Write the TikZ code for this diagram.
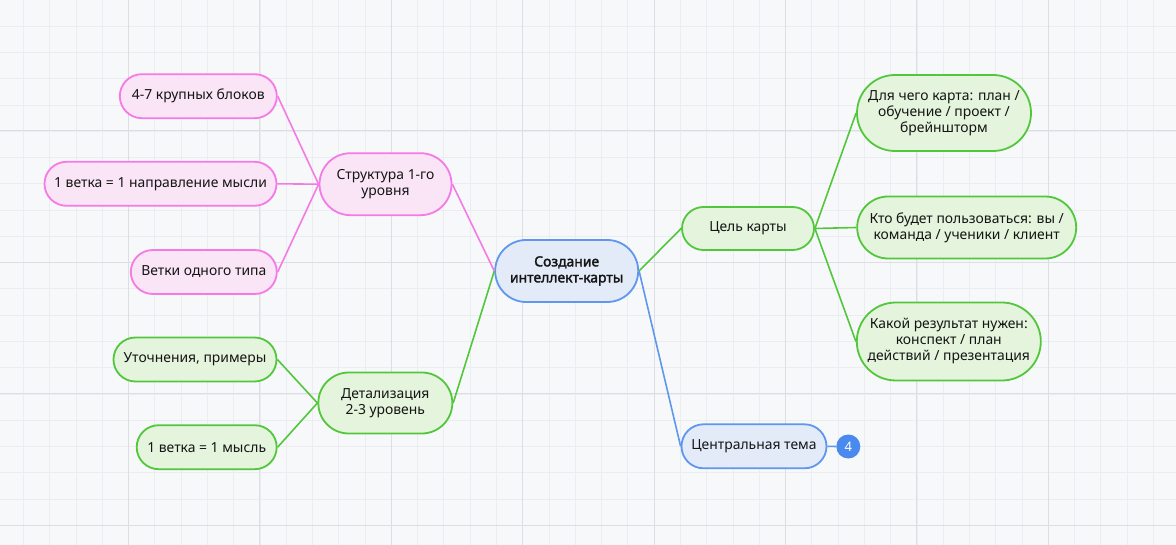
\documentclass[tikz,border=0pt]{standalone}
\usepackage{fontspec}
\setmainfont{Noto Sans}[AutoFakeBold=2.2]
\usetikzlibrary{shapes.misc}
\definecolor{pinkD}{HTML}{F57AE6}
\definecolor{pinkL}{HTML}{F9E5F6}
\definecolor{greenD}{HTML}{52C73C}
\definecolor{greenL}{HTML}{E5F4DD}
\definecolor{blueD}{HTML}{5F97EE}
\definecolor{blueL}{HTML}{E3EBF9}
\definecolor{badgeC}{HTML}{4A89EE}
\definecolor{bgC}{HTML}{F7F8FA}
\definecolor{minorC}{HTML}{ECEDF1}
\definecolor{majorC}{HTML}{DCDEE2}
\definecolor{txtC}{HTML}{151515}
\tikzset{
  topic/.style={rounded rectangle, draw, line width=1.8pt, inner sep=0pt,
    align=center, text=txtC, font=\fontsize{13.9}{16}\selectfont},
  pinkbox/.style={topic, draw=pinkD, fill=pinkL},
  greenbox/.style={topic, draw=greenD, fill=greenL},
  bluebox/.style={topic, draw=blueD, fill=blueL},
  pinkline/.style={draw=pinkD, line width=1.6pt},
  greenline/.style={draw=greenD, line width=1.6pt},
  blueline/.style={draw=blueD, line width=1.6pt},
}
\begin{document}
\begin{tikzpicture}[x=1pt,y=-1pt]
\fill[bgC] (0,0) rectangle (1176,545);
\useasboundingbox (0,0) rectangle (1176,545);
% grid
\foreach \i in {0,...,45} {
  \draw[minorC, line width=0.8pt] ({-2.9+26.28*\i},0) -- ({-2.9+26.28*\i},545);
}
\foreach \i in {0,...,21} {
  \draw[minorC, line width=0.8pt] (0,{-0.2+26.28*\i}) -- (1176,{-0.2+26.28*\i});
}
\foreach \i in {0,...,8} {
  \draw[majorC, line width=1pt] ({128.5+131.4*\i},0) -- ({128.5+131.4*\i},545);
}
\foreach \i in {0,...,3} {
  \draw[majorC, line width=1pt] (0,{131+131.4*\i}) -- (1176,{131+131.4*\i});
}
% connectors (drawn first, nodes on top)
\coordinate (rootW) at (495,271);
\coordinate (rootE) at (638.3,271);
% nodes
\node[bluebox, minimum width=143pt, minimum height=62pt, font=\fontsize{13.9}{16}\selectfont\bfseries] (root) at (566.7,271) {Создание\\интеллект-карты};

\node[pinkbox, minimum width=132pt, minimum height=62pt] (struct) at (385.5,184.2) {Структура 1-го\\уровня};
\node[pinkbox, minimum width=157pt, minimum height=44pt] (p1) at (198.3,96.2) {4-7 крупных блоков};
\node[pinkbox, minimum width=232pt, minimum height=44pt] (p2) at (160.5,183.8) {1 ветка = 1 направление мысли};
\node[pinkbox, minimum width=146pt, minimum height=44pt] (p3) at (203.8,272) {Ветки одного типа};

\node[greenbox, minimum width=134pt, minimum height=61pt] (detail) at (385.3,403) {Детализация\\2-3 уровень};
\node[greenbox, minimum width=163pt, minimum height=44pt] (g1) at (195,359.5) {Уточнения, примеры};
\node[greenbox, minimum width=140pt, minimum height=44pt] (g2) at (206.7,447.2) {1 ветка = 1 мысль};

\node[greenbox, minimum width=132pt, minimum height=43pt] (goal) at (748,228.5) {Цель карты};
\node[greenbox, minimum width=174pt, minimum height=76pt] (r1) at (944,113) {Для чего карта: план /\\обучение / проект /\\брейншторм};
\node[greenbox, minimum width=219pt, minimum height=62pt] (r2) at (966.7,227.5) {Кто будет пользоваться: вы /\\команда / ученики / клиент};
\node[greenbox, minimum width=184pt, minimum height=78pt] (r3) at (948.8,341.5) {Какой результат нужен:\\конспект / план\\действий / презентация};

\node[bluebox, minimum width=145pt, minimum height=44pt] (central) at (754,446.3) {Центральная тема};
\node[circle, fill=badgeC, minimum size=24pt, inner sep=0pt, text=white, font=\fontsize{13}{15}\selectfont] (badge) at (848.3,446.5) {4};

\draw[pinkline] (root.west) -- (struct.east);
\draw[greenline] (root.west) -- (detail.east);
\draw[greenline] (root.east) -- (goal.west);
\draw[blueline] (root.east) -- (central.west);
\draw[blueline] (central.east) -- (badge.west);
\draw[pinkline] (struct.west) -- (p1.east);
\draw[pinkline] (struct.west) -- (p2.east);
\draw[pinkline] (struct.west) -- (p3.east);
\draw[greenline] (detail.west) -- (g1.east);
\draw[greenline] (detail.west) -- (g2.east);
\draw[greenline] (goal.east) -- (r1.west);
\draw[greenline] (goal.east) -- (r2.west);
\draw[greenline] (goal.east) -- (r3.west);
\end{tikzpicture}
\end{document}
